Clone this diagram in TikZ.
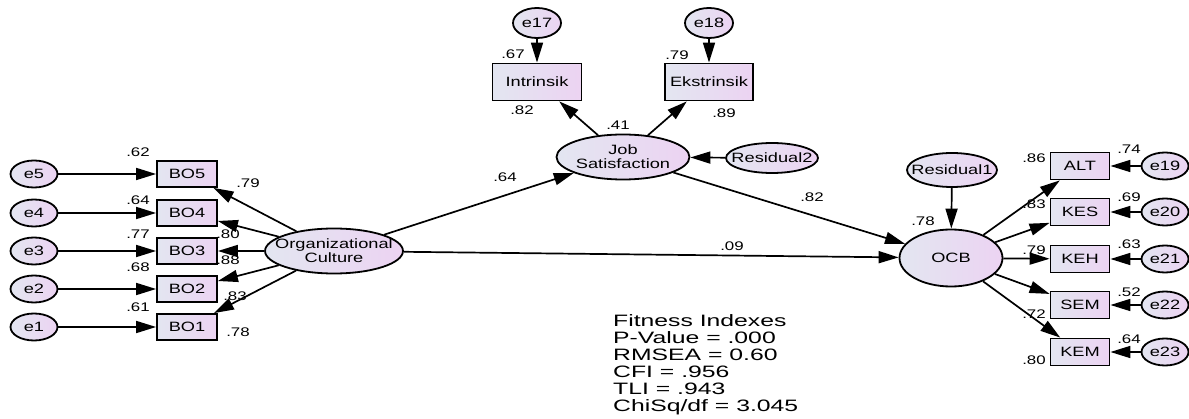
\documentclass[tikz,border=0pt]{standalone}
\usepackage{fontspec}
\setmainfont{Liberation Sans}[FakeStretch=1.35]
\newfontfamily\fitfont{Liberation Sans}[FakeStretch=1.5]
\usetikzlibrary{arrows.meta,shapes.geometric}

\definecolor{shadeA}{HTML}{E3E6F1}
\definecolor{shadeB}{HTML}{ECD3F2}

\tikzset{
  latent/.style={ellipse, draw, line width=1.8pt, left color=shadeA, right color=shadeB,
    inner xsep=-10pt, inner ysep=1pt, align=center, font=\fontsize{13.5}{14}\selectfont},
  errvar/.style={latent, minimum width=47pt, minimum height=27pt},
  observed/.style={rectangle, draw, line width=1.8pt, left color=shadeA, right color=shadeB,
    inner sep=0pt, minimum width=59pt, minimum height=27pt, font=\fontsize{13.5}{14}\selectfont},
  coef/.style={inner sep=0pt, font=\fontsize{12.5}{13}\selectfont},
  link/.style={->, line width=1.7pt}
}

\begin{document}
\begin{tikzpicture}[x=1pt, y=-1pt, >={Triangle[length=20pt,width=12pt]}]

    \useasboundingbox (0,0) rectangle (1189,419);

    % Organizational Culture and its indicators
    \node[latent, minimum width=135pt, minimum height=45pt] (oc) at (334,251) {Organizational\\Culture};
    \foreach \i/\y in {5/174,4/213,3/251,2/289,1/327} {
        \node[observed, minimum width=60pt, minimum height=26pt] (bo\i) at (187,\y) {BO\i};
        \node[errvar] (e\i) at (34,\y) {e\i};
        \draw[link] (e\i) -- (bo\i);
        \draw[link] (oc) -- (bo\i);
    }

    % squared multiple correlations (left)
    \node[coef] (r5) at (138,152) {.62};
    \node[coef] (r4) at (138,200) {.64};
    \node[coef] (r3) at (138,234) {.77};
    \node[coef] (r2) at (138,267) {.68};
    \node[coef] (r1) at (138,307) {.61};

    % loadings (left)
    \node[coef] (l5) at (248,183) {.79};
    \node[coef] (l4) at (228,234) {.80};
    \node[coef] (l3) at (228,260) {.88};
    \node[coef] (l2) at (235,296) {.83};
    \node[coef] (l1) at (238,332) {.78};

    % Job Satisfaction block
    \node[latent, minimum width=133pt, minimum height=45pt] (js) at (623,157) {Job\\Satisfaction};
    \node[observed, minimum width=89pt, minimum height=37pt] (intr) at (537,82) {Intrinsik};
    \node[observed, minimum width=88pt, minimum height=37pt] (ekst) at (709,82) {Ekstrinsik};
    \node[errvar, minimum width=48pt, minimum height=30pt] (e17) at (537,23) {e17};
    \node[errvar, minimum width=48pt, minimum height=30pt] (e18) at (709,23) {e18};
    \node[latent, minimum width=92pt, minimum height=30pt] (res2) at (772,158) {Residual2};
    \draw[link] (e17) -- (intr);
    \draw[link] (e18) -- (ekst);
    \draw[link] (js) -- (intr);
    \draw[link] (js) -- (ekst);
    \draw[link] (res2) -- (js);

    \node[coef] (r17) at (513,54) {.67};
    \node[coef] (r18) at (677,55) {.79};
    \node[coef] (l17) at (522,110) {.82};
    \node[coef] (l18) at (724,113) {.89};
    \node[coef] (rjs) at (618,125) {.41};

    % OCB and its indicators
    \node[latent, minimum width=103pt, minimum height=57pt] (ocb) at (951,258) {OCB};
    \node[latent, minimum width=90pt, minimum height=34pt] (res1) at (952,170) {Residual1};
    \draw[link] (res1) -- (ocb);
    \foreach \nm/\lab/\en/\y in {alt/ALT/19/166, kes/KES/20/212, keh/KEH/21/259, sem/SEM/22/305, kem/KEM/23/352} {
        \node[observed] (\nm) at (1080,\y) {\lab};
        \node[errvar] (e\en) at (1165,\y) {e\en};
        \draw[link] (ocb) -- (\nm);
        \draw[link] (e\en) -- (\nm);
    }

    \node[coef] (rocb) at (923,221) {.78};
    \node[coef] (lalt) at (1034,158) {.86};
    \node[coef] (lkes) at (1034,204) {.83};
    \node[coef] (lkeh) at (1034,250) {.79};
    \node[coef] (lsem) at (1034,314) {.72};
    \node[coef] (lkem) at (1034,360) {.80};
    \node[coef] (ralt) at (1129,149) {.74};
    \node[coef] (rkes) at (1129,197) {.69};
    \node[coef] (rkeh) at (1129,244) {.63};
    \node[coef] (rsem) at (1129,292) {.52};
    \node[coef] (rkem) at (1129,339) {.64};

    % structural paths
    \draw[link] (oc) -- (js);
    \draw[link] (oc) -- (ocb);
    \draw[link] (js) -- (ocb);
    \node[coef] (p1) at (505,177) {.64};
    \node[coef] (p2) at (732,246) {.09};
    \node[coef] (p3) at (812,197) {.82};

    % fit summary
    \node[anchor=north west, align=left, inner sep=0pt, font={\fitfont\fontsize{16.5}{17}\selectfont}] (fit) at (613,314)
        {Fitness Indexes\\P-Value = .000\\RMSEA = 0.60\\CFI = .956\\TLI = .943\\ChiSq/df = 3.045};

\end{tikzpicture}
\end{document}
